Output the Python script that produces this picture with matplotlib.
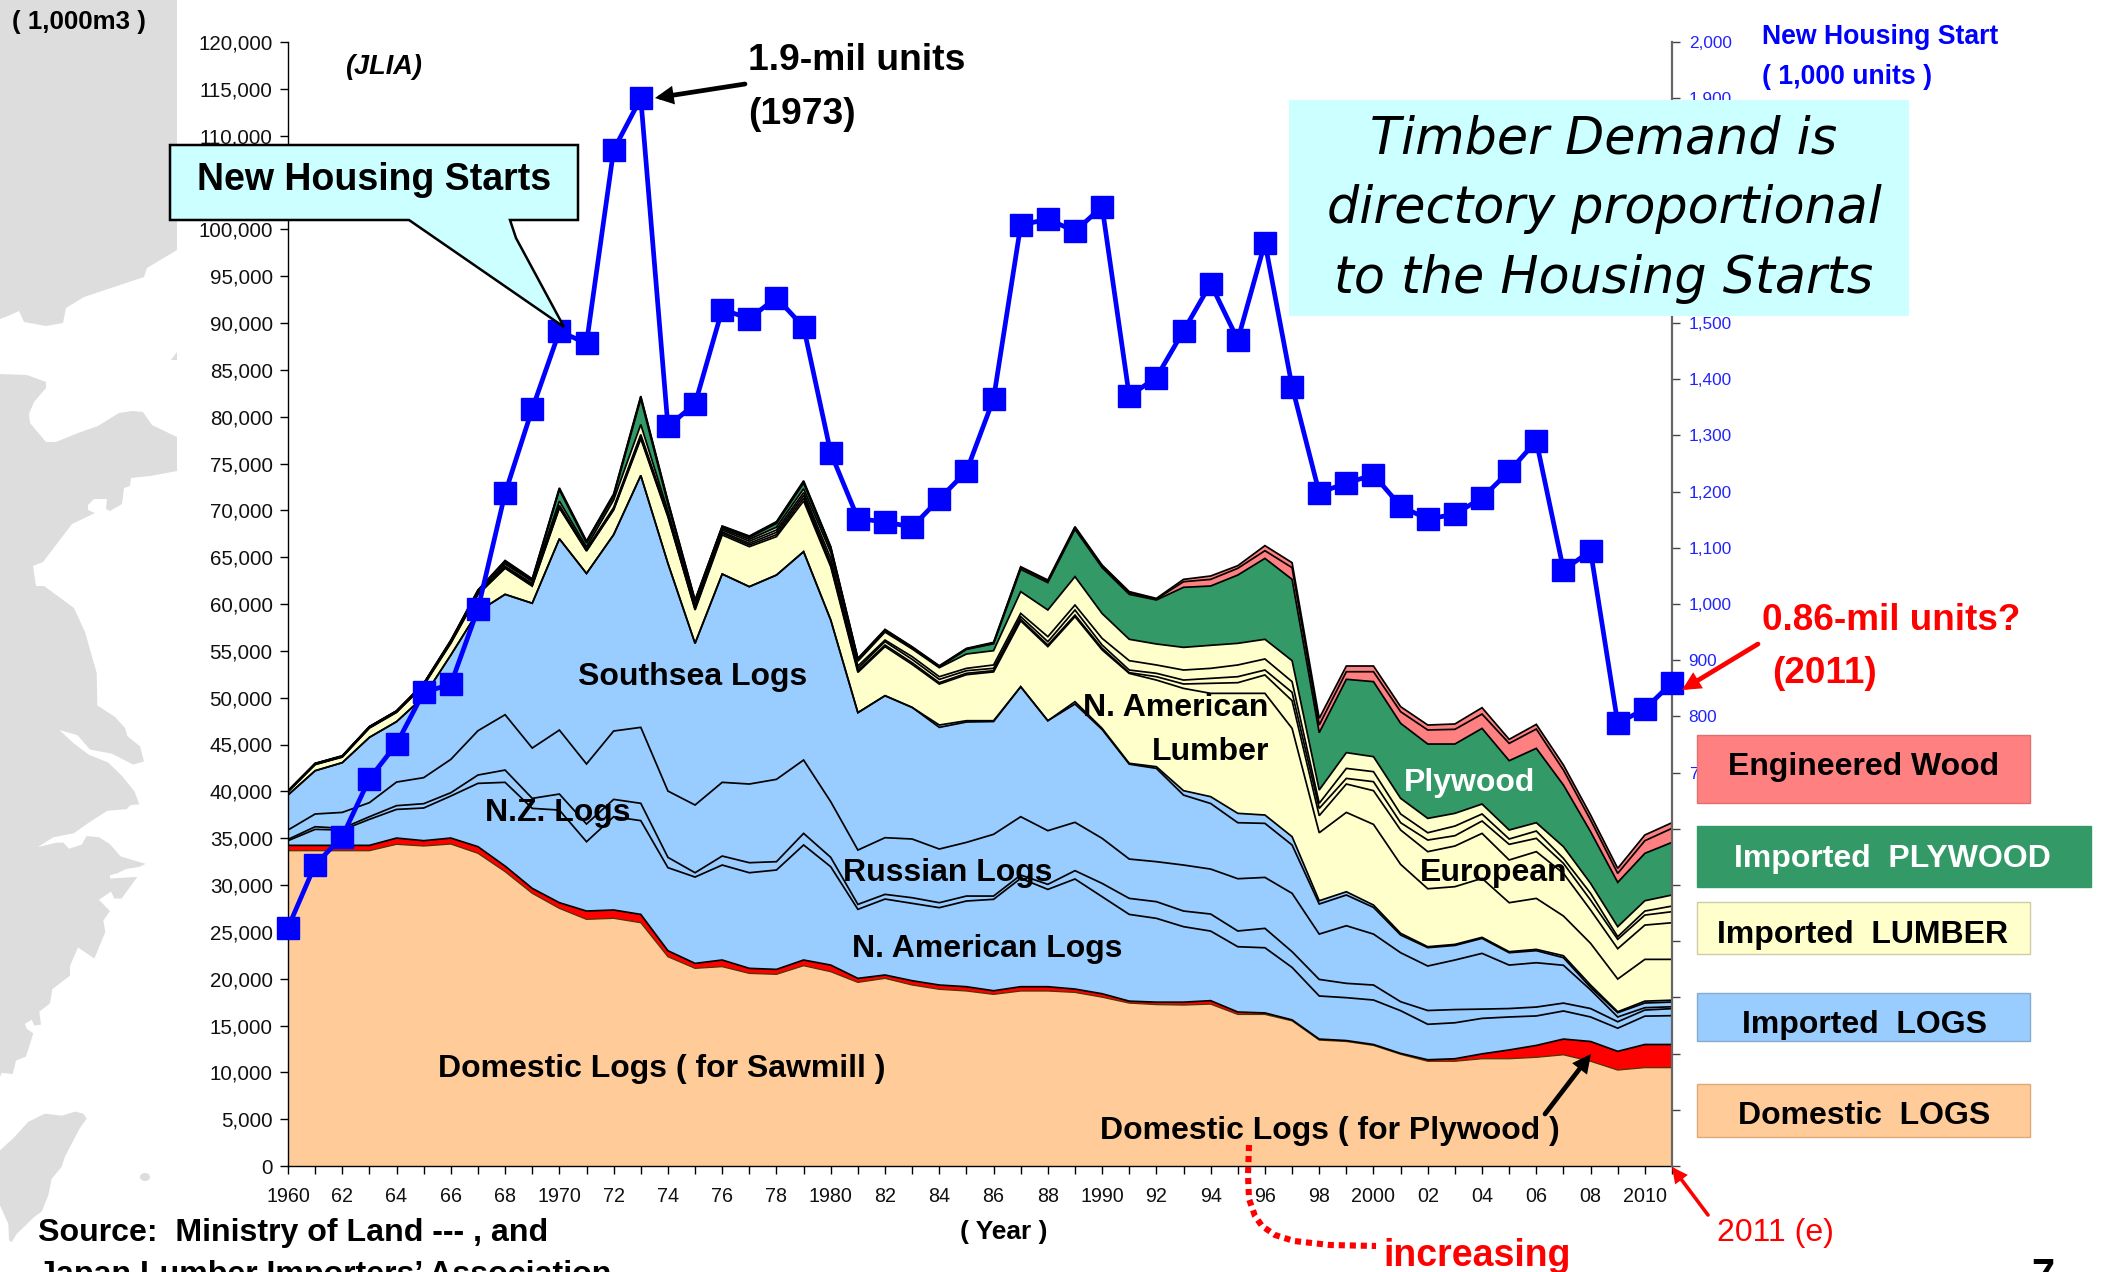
import matplotlib
matplotlib.use("Agg")
import matplotlib.pyplot as plt
from matplotlib.patches import Polygon, Rectangle, Ellipse, FancyArrowPatch
from matplotlib.ticker import FuncFormatter

years = list(range(1960, 2012))

housing_starts = [424,536,586,689,751,843,857,991,1197,1347,
                  1485,1464,1808,1900,1316,1356,1524,1508,1545,1493,
                  1269,1152,1146,1137,1187,1236,1365,1674,1685,1663,
                  1707,1370,1403,1486,1570,1470,1643,1387,1198,1215,
                  1230,1174,1151,1160,1189,1236,1290,1061,1094,788,813,860]

domestic_sawmill = [33660,33660,33660,33660,34340,34160,34370,33380,31420,29110,
                    27500,26330,26440,25970,22340,21100,21280,20560,20460,21380,
                    20740,19600,20030,19320,18860,18680,18320,18680,18680,18530,
                    18020,17390,17230,17180,17280,16180,16180,15490,13440,13290,
                    12870,11920,11180,11180,11450,11450,11600,11870,11180,10240,10500,10500]
domestic_plywood_top = [34230,34230,34230,34230,35010,34730,35010,34090,32020,29640,
                        28110,27220,27330,26860,22980,21630,21990,21100,20990,21990,
                        21450,20030,20390,19780,19320,19140,18710,19140,19140,18890,
                        18390,17600,17490,17490,17650,16440,16340,15600,13550,13390,
                        12970,12020,11340,11450,11970,12390,12870,13550,13290,12240,12970,12970]
logs_line1 = [34730,35940,35870,37010,38070,38220,39500,40850,40960,38180,
              38000,34620,37290,36870,31850,30850,32130,31310,31600,34270,
              31950,27400,28500,28040,27580,28290,28470,30710,29530,30640,
              28750,26860,26440,25550,25080,23410,23300,21200,18150,17970,
              17720,16580,15130,15290,15760,15910,16020,16550,15910,14710,16000,16050]
logs_line2 = [34870,36220,36050,37290,38470,38680,39850,41740,42270,39250,
              39710,36510,39140,38720,32950,31310,33090,32380,32490,35510,
              32950,27930,29000,28640,28110,28820,28820,31060,30070,31530,
              30170,28570,28220,27220,26900,25090,25370,22880,19920,19500,
              19320,17540,16600,16700,16750,16810,16970,17390,16810,15400,16650,16800]
logs_line3 = [35870,37580,37750,38790,40990,41460,43410,46470,48180,44620,
              46540,42920,46440,46830,40030,38540,40960,40780,41280,43340,
              38890,33730,35050,34910,33840,34550,35410,37290,35800,36690,
              34980,32770,32490,32130,31700,30670,30810,29110,24760,25650,
              24760,22770,21350,21990,22700,21450,21700,21430,18800,15910,16900,17000]
logs_line4 = [39610,42200,43060,45760,47440,50100,54550,59180,61030,60080,
              66960,63260,67400,73720,64340,55800,63200,61850,63090,65590,
              58290,48400,50210,48960,46830,47400,47450,51170,47540,49320,
              46600,42900,42450,39600,38700,36650,36580,34270,27970,28930,
              27610,24660,23310,23550,24300,22770,22990,22240,19070,16370,17400,17500]
logs_top = [39610,42200,43060,45760,47440,50100,54550,59180,61030,60080,
            66960,63260,67400,73720,64340,55800,63200,61850,63090,65590,
            58290,48400,50210,48960,47080,47540,47540,51170,47540,49570,
            46720,42990,42630,40070,39430,37650,37470,35160,28320,29280,
            27860,24840,23410,23660,24410,22880,23130,22450,19320,16470,17600,17700]
lumber_line0 = [39950,42850,43650,46750,48420,51300,55800,61000,63810,61900,
                70240,65650,70030,77640,69300,59360,67370,66120,67190,71000,
                63980,52700,55450,53550,51450,52450,52750,58200,55450,58650,
                55100,52590,51880,50990,50460,50460,50460,46720,35580,37750,
                36470,32200,29600,29820,30710,28110,28570,26690,23770,19960,22060,22060]
lumber_line1 = [39970,42880,43680,46790,48470,51350,55860,61060,63880,61980,
                70320,65700,70100,77760,69400,59450,67550,66300,67400,71300,
                64160,52880,55620,53730,51600,52600,52880,58360,55620,58820,
                55270,52670,52240,51460,51530,51600,52420,49680,37400,40780,
                40070,35870,33560,34160,35510,32670,33560,31240,27330,23200,25720,25970]
lumber_line2 = [39990,42910,43710,46830,48510,51400,55920,61120,63950,62060,
                70400,65760,70170,77880,69500,59550,67700,66480,67650,71600,
                64400,53130,55980,54090,51950,52880,53130,58650,55980,59360,
                55620,52950,52600,51880,52060,52240,52950,50570,38180,41380,
                41030,36650,34800,35260,36830,34340,34980,32310,28390,24200,26790,27150]
lumber_line3 = [40010,42930,43730,46860,48540,51440,55980,61200,64020,62200,
                70560,65850,70300,78100,69650,59700,67900,66700,67900,71900,
                64870,53380,56150,54380,52240,53130,53490,59000,56510,59890,
                56330,53950,53490,52950,53130,53490,54130,51710,38720,42450,
                42100,37580,35580,36290,37580,34910,35760,32840,29110,24480,27220,27750]
lumber_top = [40030,42950,43750,46880,48560,51480,56030,61280,64250,62420,
              70990,66085,71100,79160,69900,59900,68050,66900,68200,72300,
              65500,53900,57000,55200,53200,54660,55015,61320,59360,62920,
              58980,56230,55730,55370,55590,55800,56230,53950,40140,44130,
              43700,39250,37110,37650,38640,35870,36650,34090,30170,25550,28320,28930]
plywood_top = [40040,42960,43760,46890,48570,51490,56040,61400,64450,62500,
               72200,66500,71500,81900,70700,60300,68200,67100,68600,72900,
               65950,54050,57150,55300,53280,55150,55750,63700,62280,67970,
               63880,61030,60430,61780,61920,63090,64870,62630,46260,51960,
               51710,47260,45050,45050,46720,43270,44590,40670,35690,30280,33380,34550]
engineered_mid = [40050,42970,43780,46900,48580,51500,56060,61460,64580,62620,
                  72300,66650,71650,82100,70950,60380,68270,67200,68720,73050,
                  66050,54150,57240,55380,53350,55220,55830,63900,62450,68150,
                  64050,61200,60520,62380,62630,63810,65690,63880,47080,52770,
                  52770,48500,46550,46620,48250,45120,46650,42270,36940,31240,34730,36050]
total_top = [40070,42990,43800,46920,48600,51530,56150,61500,64650,62690,
             72400,66730,71750,82200,71000,60430,68330,67260,68790,73160,
             66120,54200,57290,55440,53410,55260,55910,63980,62560,68260,
             64160,61320,60600,62630,62990,64090,66230,64410,47790,53380,
             53380,49040,47080,47190,48930,45550,47150,42810,37470,31780,35340,36650]

layers = [domestic_sawmill, domestic_plywood_top, logs_line1, logs_line2, logs_line3,
          logs_line4, logs_top, lumber_line0, lumber_line1, lumber_line2, lumber_line3,
          lumber_top, plywood_top, engineered_mid, total_top]
PEACH, RED, BLUE, YELLOW, GREEN, PINK = "#FFCC99", "#FF0000", "#99CCFF", "#FFFFCC", "#339966", "#FF8080"
layer_colors = [PEACH, RED, BLUE, BLUE, BLUE, BLUE, BLUE, YELLOW, YELLOW, YELLOW, YELLOW,
                YELLOW, GREEN, PINK, PINK]

left_ticks = list(range(0, 120001, 5000))
right_ticks = list(range(0, 2001, 100))
xlabels = {1960:"1960",1962:"62",1964:"64",1966:"66",1968:"68",1970:"1970",1972:"72",1974:"74",
           1976:"76",1978:"78",1980:"1980",1982:"82",1984:"84",1986:"86",1988:"88",1990:"1990",
           1992:"92",1994:"94",1996:"96",1998:"98",2000:"2000",2002:"02",2004:"04",2006:"06",
           2008:"08",2010:"2010"}

plt.rcParams["font.family"] = ["Liberation Sans", "DejaVu Sans"]
W, H = 2105, 1272
fig = plt.figure(figsize=(W/100, H/100), dpi=100, facecolor="white")

def px_axes(z):
    a = fig.add_axes([0, 0, 1, 1], zorder=z)
    a.set_xlim(0, W); a.set_ylim(H, 0); a.axis("off"); a.patch.set_alpha(0)
    return a

bg = px_axes(0)
# grey map in the background
mapgrey = "#DDDDDD"
north = [(0,0),(177,0),(177,250),(147,268),(144,277),(84,297),(66,308),(63,323),(46,326),(24,322),(19,311),(8,316),(0,319)]
z9 = [(46,382),(46,388),(34,402),(29,414),(30,423),(46,442),(56,442),(78,433),(98,426),(119,413),(132,411),(143,412),
      (152,425),(177,437),(177,471),(150,476),(131,478),(130,486),(124,488),(122,504),(110,511),(106,509),(107,499),(94,499),
      (88,505),(88,510),(95,513),(72,524),(43,562),(33,566),(36,586),(44,586),(74,608),(85,632)]
z10 = [(290,100),(292,180),(345,208),(375,235),(382,255),(420,280),(432,317),(400,325),(335,298),(270,288),(233,253),(178,240),
       (220,272),(265,300),(325,320),(365,352),(403,390),(418,422),(392,424),(380,434),(322,438),(270,465),(222,493),(160,503),
       (113,527),(170,516),(190,516),(207,531),(245,521),(260,500),(298,503),(330,520),(362,550),(437,568),(420,575),(377,581),
       (352,591),(330,596),(330,604),(412,600),(365,653),(343,653),(333,636),(297,656),(330,684),(310,707),(316,735),(283,800),
       (234,773),(210,818),(210,842),(157,875),(150,910),(118,930),(123,962),(103,964),(95,950),(75,960),(80,972),(100,983),
       (78,1040),(48,1050),(38,1083),(5,1080),(0,1090)]
main = [(0,374),(27,375)] + z9 + [(x/3, 632+y/2.45) for x, y in z10]
taiwan = [(0,1270),(40,1240),(85,1200),(135,1180),(185,1185),(225,1175),(250,1180),(260,1192),(240,1215),(195,1285),(185,1310),
          (155,1340),(145,1380),(125,1420),(100,1435),(50,1475),(35,1495),(27,1490),(25,1450),(0,1405)]
taiwan = [(x/3, 632+y/2.45) for x, y in taiwan]
for poly in (north, main, taiwan):
    bg.add_patch(Polygon(poly, closed=True, fc=mapgrey, ec="none"))
bg.add_patch(Ellipse((145, 1177), 10, 8, fc=mapgrey, ec="none"))
bg.add_patch(Polygon([(171,360),(177,352),(177,360)], closed=True, fc=mapgrey, ec="none"))

L, R, T, B = 288, 1672, 42, 1166
ax = fig.add_axes([L/W, 1-B/H, (R-L)/W, (B-T)/H], zorder=1)
ax.patch.set_alpha(0)
ax.set_xlim(1960, 2011); ax.set_ylim(0, 120000)
lower = [0]*len(years)
for top, col in zip(layers, layer_colors):
    ax.fill_between(years, lower, top, facecolor=col, edgecolor="none", linewidth=0, zorder=2)
    lower = top
for i, top in enumerate(layers):
    lw = 0.9 if i == 0 else 1.25
    col = "#553300" if i == 0 else "black"
    ax.plot(years, top, color=col, lw=lw, zorder=3, solid_joinstyle="miter")
for s in ("top", "right"):
    ax.spines[s].set_visible(False)
ax.spines["left"].set_linewidth(1.0); ax.spines["bottom"].set_linewidth(1.0)
ax.spines["left"].set_zorder(6); ax.spines["bottom"].set_zorder(6)
ax.set_yticks(left_ticks)
ax.yaxis.set_major_formatter(FuncFormatter(lambda v, p: f"{int(v):,}"))
ax.set_xticks(years)
ax.set_xticklabels([xlabels.get(y, "") for y in years])
ax.tick_params(axis="y", length=6, width=1, labelsize=14.8, pad=5, labelcolor="#111111", direction="out")
ax.tick_params(axis="x", length=6, width=1, labelsize=14.2, pad=9, labelcolor="#111111", direction="out")

ax2 = ax.twinx()
ax2.set_zorder(2); ax2.patch.set_alpha(0)
ax2.set_ylim(0, 2000)
ax2.plot(years, housing_starts, color="#0000FF", lw=3.4, marker="s", ms=16, mec="#0000FF", clip_on=False, zorder=5)
for s in ("top", "left", "bottom"):
    ax2.spines[s].set_visible(False)
ax2.spines["right"].set_color("#666666"); ax2.spines["right"].set_linewidth(1.6)
ax2.set_yticks(right_ticks)
ax2.set_yticklabels([f"{v:,}" if v >= 700 else "" for v in right_ticks])
ax2.tick_params(axis="y", length=6, width=1, color="#444444", labelsize=12.4, labelcolor="#2222FF", pad=6)

fg = px_axes(10)
def t(x, y, s, size=22, color="black", weight="bold", ha="center", style="normal", family=None):
    kw = {"family": family} if family else {}
    fg.text(x, y + 2.5, s, fontsize=size, color=color, fontweight=weight, ha=ha, va="center", fontstyle=style,
            clip_on=False, **kw)

def arrow(a, b, color, lw=3.4, ms=20):
    fg.add_patch(FancyArrowPatch(a, b, arrowstyle="-|>", color=color, lw=lw, mutation_scale=ms,
                                 shrinkA=0, shrinkB=0, joinstyle="miter"))

# callout
fg.add_patch(Polygon([(170,145),(578,145),(578,220),(510,220),(516,238),(564,327),(409,220),(170,220)],
                     closed=True, fc="#CCFFFF", ec="black", lw=1.8))
t(374, 178, "New Housing Starts", 27)
# message box
fg.add_patch(Rectangle((1289,100), 620, 216, fc="#CCFFFF", ec="none"))
for y, s in zip((137,207,277), ("Timber Demand is", "directory proportional", "to the Housing Starts")):
    t(1604, y, s, 36.5, weight="normal", style="italic", family="DejaVu Sans")

t(12, 20, "( 1,000m3 )", 18.6, ha="left")
t(383, 65, "(JLIA)", 19.5, style="italic")
t(748, 58, "1.9-mil units", 26.8, ha="left")
t(748, 112, "(1973)", 26.8, ha="left")
arrow((745,84), (655,98), "black")
t(1762, 35, "New Housing Start", 19.2, "#0000FF", ha="left")
t(1762, 74, "( 1,000 units )", 19.2, "#0000FF", ha="left")
t(1762, 618, "0.86-mil units?", 26.6, "#FF0000", ha="left")
t(1772, 671, "(2011)", 26.6, "#FF0000", ha="left")
arrow((1758,644), (1682,690), "#FF0000")
arrow((1708,1215), (1672,1167), "#FF0000", lw=2.6, ms=18)
t(1717, 1230, "2011 (e)", 23, "#FF0000", weight="normal", ha="left")

t(693, 675, "Southsea Logs", 23)
t(558, 811, "N.Z. Logs", 23)
t(948, 871, "Russian Logs", 23)
t(987, 946, "N. American Logs", 23)
t(662, 1067, "Domestic Logs ( for Sawmill )", 23)
t(1330, 1129, "Domestic Logs ( for Plywood )", 23)
arrow((1545,1114), (1591,1054), "black")
t(1176, 706, "N. American", 23)
t(1211, 750, "Lumber", 23)
t(1470, 781, "Plywood", 23, "white")
t(1494, 871, "European", 23)

# legend
for (x0, y0, x1, y1, fc, ec) in ((1697,735,2030,803,PINK,"#E07070"), (1697,826,2091,887,GREEN,GREEN),
                                 (1697,902,2030,954,YELLOW,"#CCCCAA"), (1697,993,2030,1041,BLUE,"#88AACC"),
                                 (1697,1084,2030,1137,PEACH,"#DDAA77")):
    fg.add_patch(Rectangle((x0,y0), x1-x0, y1-y0, fc=fc, ec=ec, lw=1))
t(1864, 765, "Engineered Wood", 23)
t(1892, 856, "Imported  PLYWOOD", 23, "white")
t(1863, 932, "Imported  LUMBER", 23)
t(1864, 1022, "Imported  LOGS", 23)
t(1864, 1113, "Domestic  LOGS", 23)

t(38, 1230, "Source:  Ministry of Land --- , and", 23.1, ha="left")
t(38, 1272, "Japan Lumber Importers\u2019 Association", 23.1, ha="left")
t(1004, 1230, "( Year )", 19)
t(1571, 1253, "increasing", 27, "#FF0000", ha="right")
t(2043, 1274, "7", 30)
fg.plot([1249,1248,1249,1255,1262,1275,1294,1330,1376], [1145,1175,1199,1216,1226,1235,1241,1245,1246],
        color="#FF0000", lw=4.4, ls=(0,(1.0,0.8)))

fig.savefig("out.png", dpi=100)
